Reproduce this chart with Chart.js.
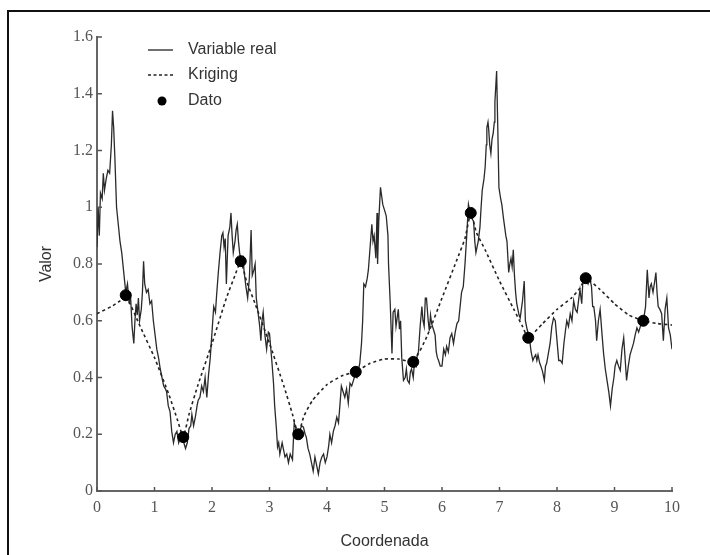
<!DOCTYPE html>
<html>
<head>
<meta charset="utf-8">
<script src="https://cdn.jsdelivr.net/npm/chart.js@4"></script>
<style>
  html, body { margin: 0; padding: 0; background: #fff; }
  #wrap { width: 710px; height: 555px; position: relative; }
</style>
</head>
<body>
<div id="wrap"><canvas id="chart" width="710" height="555"></canvas></div>
<script>
// Variable real (noisy line)
const realCoord = [
  0.00, 0.02, 0.04, 0.06, 0.09, 0.11, 0.13, 0.16, 0.19, 0.22, 0.25, 0.27, 0.29, 0.31, 0.34, 0.37, 0.40, 0.43, 0.46, 0.50,
  0.53, 0.56, 0.58, 0.61, 0.64, 0.66, 0.68, 0.70, 0.72, 0.74, 0.77, 0.79, 0.81, 0.83, 0.86, 0.89, 0.92, 0.95, 0.98,
  1.01, 1.04, 1.07, 1.10, 1.13, 1.16, 1.19, 1.21, 1.24, 1.27, 1.30, 1.33, 1.36, 1.39, 1.42, 1.45, 1.48, 1.51, 1.54,
  1.57, 1.60, 1.63, 1.65, 1.68, 1.71, 1.74, 1.76, 1.79, 1.82, 1.85, 1.88, 1.91, 1.94, 1.97, 2.00,
  2.03, 2.06, 2.08, 2.11, 2.14, 2.17, 2.19, 2.21, 2.23, 2.25, 2.28, 2.31, 2.33, 2.35, 2.37, 2.40, 2.42, 2.44, 2.46, 2.48, 2.51,
  2.54, 2.56, 2.59, 2.62, 2.65, 2.68, 2.70, 2.73, 2.75, 2.77, 2.80, 2.83, 2.85, 2.87, 2.89, 2.92, 2.95, 2.98, 3.00, 3.04,
  3.07, 3.09, 3.12, 3.14, 3.16, 3.18, 3.20, 3.22, 3.25, 3.27, 3.30, 3.33, 3.36, 3.40, 3.43, 3.46, 3.49, 3.52,
  3.56, 3.59, 3.62, 3.64, 3.67, 3.70, 3.73, 3.76, 3.79, 3.82, 3.85, 3.88, 3.91, 3.94, 3.97, 4.00,
  4.03, 4.05, 4.08, 4.11, 4.14, 4.17, 4.20, 4.22, 4.25, 4.28, 4.31, 4.34, 4.37, 4.40, 4.43, 4.46, 4.49, 4.52,
  4.55, 4.57, 4.60, 4.62, 4.64, 4.67, 4.70, 4.72, 4.75, 4.78, 4.80, 4.82, 4.85, 4.87, 4.88, 4.90, 4.93, 4.95, 4.97, 5.00,
  5.03, 5.06, 5.07, 5.10, 5.13, 5.15, 5.18, 5.20, 5.24, 5.26, 5.28, 5.30, 5.33, 5.36, 5.38, 5.40, 5.43, 5.45, 5.47, 5.50, 5.52, 5.55, 5.57,
  5.59, 5.62, 5.65, 5.67, 5.69, 5.71, 5.73, 5.76, 5.78, 5.80, 5.82, 5.85, 5.88, 5.90, 5.92, 5.94, 5.97, 6.00,
  6.03, 6.06, 6.08, 6.11, 6.14, 6.17, 6.20, 6.23, 6.26, 6.29, 6.31, 6.34, 6.37, 6.40, 6.43, 6.46, 6.49, 6.52,
  6.55, 6.57, 6.59, 6.61, 6.63, 6.66, 6.68, 6.70, 6.73, 6.75, 6.77, 6.78, 6.80, 6.81, 6.83, 6.85, 6.87, 6.89, 6.91, 6.92, 6.95, 6.97, 6.99,
  7.02, 7.04, 7.07, 7.09, 7.11, 7.13, 7.16, 7.18, 7.20, 7.22, 7.24, 7.26, 7.28, 7.30, 7.32, 7.34, 7.36, 7.38, 7.40, 7.43, 7.45, 7.48, 7.52,
  7.55, 7.58, 7.60, 7.63, 7.65, 7.67, 7.70, 7.72, 7.75, 7.78, 7.80, 7.82, 7.85, 7.88, 7.91, 7.94, 7.97, 8.00, 8.03,
  8.06, 8.09, 8.12, 8.15, 8.17, 8.20, 8.23, 8.26, 8.29, 8.32, 8.35, 8.38, 8.40, 8.43, 8.45, 8.48, 8.51,
  8.54, 8.57, 8.60, 8.62, 8.64, 8.67, 8.69, 8.72, 8.75, 8.78, 8.81, 8.84, 8.87, 8.90, 8.93, 8.96, 8.99, 9.01, 9.04,
  9.07, 9.10, 9.13, 9.16, 9.19, 9.21, 9.24, 9.27, 9.30, 9.33, 9.36, 9.39, 9.42, 9.45, 9.48, 9.51,
  9.54, 9.57, 9.60, 9.62, 9.64, 9.67, 9.70, 9.72, 9.74, 9.76, 9.79, 9.82, 9.85, 9.88, 9.91, 9.94, 9.97, 10.00
];
const realValue = [
  0.86, 1.00, 0.90, 1.05, 1.03, 1.12, 1.06, 1.10, 1.13, 1.12, 1.22, 1.34, 1.28, 1.18, 1.00, 0.94, 0.88, 0.84, 0.78, 0.70,
  0.73, 0.66, 0.70, 0.58, 0.52, 0.60, 0.66, 0.62, 0.68, 0.60, 0.64, 0.70, 0.81, 0.73, 0.70, 0.71, 0.66, 0.67, 0.60,
  0.55, 0.50, 0.47, 0.43, 0.40, 0.37, 0.36, 0.35, 0.30, 0.28, 0.21, 0.17, 0.20, 0.21, 0.17, 0.19, 0.20, 0.17, 0.15,
  0.17, 0.22, 0.23, 0.27, 0.23, 0.26, 0.30, 0.32, 0.33, 0.37, 0.35, 0.40, 0.33, 0.41, 0.47, 0.56,
  0.65, 0.63, 0.69, 0.77, 0.84, 0.90, 0.91, 0.86, 0.89, 0.73, 0.90, 0.93, 0.98, 0.90, 0.84, 0.88, 0.92, 0.94, 0.88, 0.84, 0.80,
  0.82, 0.77, 0.72, 0.68, 0.75, 0.92, 0.76, 0.78, 0.80, 0.68, 0.63, 0.58, 0.53, 0.60, 0.63, 0.55, 0.50, 0.56, 0.555, 0.46,
  0.38, 0.30, 0.22, 0.155, 0.17, 0.13, 0.15, 0.17, 0.14, 0.12, 0.13, 0.10, 0.13, 0.11, 0.24, 0.22, 0.19, 0.21,
  0.23, 0.225, 0.20, 0.19, 0.15, 0.13, 0.10, 0.07, 0.12, 0.09, 0.06, 0.10, 0.12, 0.13, 0.10, 0.12,
  0.16, 0.20, 0.17, 0.21, 0.23, 0.26, 0.24, 0.29, 0.37, 0.35, 0.33, 0.36, 0.31, 0.38, 0.37, 0.39, 0.41, 0.40,
  0.43, 0.45, 0.52, 0.60, 0.73, 0.72, 0.75, 0.78, 0.86, 0.94, 0.88, 0.90, 0.82, 0.98, 0.80, 0.95, 1.07, 1.04, 1.01, 0.99,
  0.97, 0.90, 0.80, 0.66, 0.485, 0.63, 0.64, 0.58, 0.64, 0.57, 0.60, 0.47, 0.39, 0.40, 0.43, 0.39, 0.38, 0.42, 0.43, 0.40, 0.45, 0.44, 0.48,
  0.49, 0.58, 0.65, 0.60, 0.58, 0.68, 0.68, 0.60, 0.565, 0.62, 0.59, 0.57, 0.55, 0.49, 0.47, 0.46, 0.44, 0.44,
  0.50, 0.48, 0.51, 0.49, 0.54, 0.555, 0.52, 0.56, 0.59, 0.60, 0.64, 0.70, 0.72, 0.80, 0.90, 1.01, 0.98, 0.96,
  0.95, 0.88, 0.84, 0.86, 0.88, 0.93, 1.00, 1.06, 1.10, 1.14, 1.22, 1.28, 1.30, 1.28, 1.22, 1.19, 1.24, 1.26, 1.30, 1.37, 1.48, 1.28, 1.07,
  1.03, 1.01, 0.96, 0.93, 0.90, 0.88, 0.77, 0.80, 0.82, 0.79, 0.85, 0.76, 0.70, 0.66, 0.64, 0.62, 0.61, 0.64, 0.67, 0.74, 0.60, 0.57, 0.54,
  0.49, 0.46, 0.47, 0.48, 0.46, 0.48, 0.45, 0.44, 0.42, 0.39, 0.44, 0.45, 0.485, 0.52, 0.58, 0.61, 0.60, 0.53, 0.46,
  0.46, 0.45, 0.52, 0.57, 0.60, 0.58, 0.625, 0.60, 0.67, 0.64, 0.63, 0.68, 0.71, 0.66, 0.74, 0.76, 0.75,
  0.73, 0.75, 0.72, 0.65, 0.65, 0.60, 0.53, 0.60, 0.64, 0.56, 0.485, 0.43, 0.39, 0.35, 0.30, 0.36, 0.40, 0.44, 0.46,
  0.44, 0.425, 0.50, 0.54, 0.45, 0.39, 0.44, 0.48, 0.50, 0.52, 0.55, 0.575, 0.56, 0.58, 0.60, 0.61,
  0.65, 0.78, 0.68, 0.72, 0.73, 0.70, 0.74, 0.77, 0.70, 0.65, 0.64, 0.625, 0.53, 0.64, 0.68, 0.575, 0.55, 0.50
];

// Kriging estimate (dashed)
const krigCoord = [0, 0.25, 0.4, 0.5, 0.75, 1.0, 1.25, 1.4, 1.5, 1.6, 1.75, 2.0, 2.25, 2.4, 2.5, 2.6, 2.75, 3.0, 3.25, 3.4, 3.5,
  3.6, 3.75, 4.0, 4.25, 4.4, 4.5, 4.75, 5.0, 5.25, 5.5, 5.75, 6.0, 6.25, 6.4, 6.5, 6.6, 6.75, 7.0, 7.25, 7.4, 7.5,
  7.75, 8.0, 8.25, 8.4, 8.5, 8.75, 9.0, 9.25, 9.5, 9.75, 10];
const krigValue = [0.625, 0.65, 0.67, 0.69, 0.58, 0.47, 0.34, 0.25, 0.19, 0.27, 0.37, 0.52, 0.68, 0.76, 0.81, 0.74, 0.66, 0.52, 0.37, 0.27, 0.20,
  0.265, 0.32, 0.375, 0.405, 0.415, 0.42, 0.45, 0.465, 0.465, 0.455, 0.55, 0.68, 0.81, 0.89, 0.98, 0.91, 0.85, 0.74, 0.64, 0.58, 0.54,
  0.59, 0.64, 0.68, 0.715, 0.75, 0.71, 0.66, 0.62, 0.60, 0.59, 0.585];

// Dato (sample points)
const datoCoord = [0.5, 1.5, 2.5, 3.5, 4.5, 5.5, 6.5, 7.5, 8.5, 9.5];
const datoValue = [0.69, 0.19, 0.81, 0.20, 0.42, 0.455, 0.98, 0.54, 0.75, 0.60];

const xTicks = [0, 1, 2, 3, 4, 5, 6, 7, 8, 9, 10];
const yTicks = [0, 0.2, 0.4, 0.6, 0.8, 1, 1.2, 1.4, 1.6];
const seriesNames = ["Variable real", "Kriging", "Dato"];

const pairs = (xs, ys) => xs.map((x, i) => ({ x: x, y: ys[i] }));
const plain = v => String(Math.round(v * 10) / 10);

const serif = "'Liberation Serif', 'Times New Roman', serif";
const sans = "'Liberation Sans', Arial, sans-serif";

// frame, inward ticks and legend drawn by hand
const decor = {
  id: "decor",
  beforeDraw(chart) {
    const ctx = chart.ctx;
    ctx.save();
    ctx.fillStyle = "#111";
    ctx.fillRect(7, 10, 703, 2);
    ctx.fillRect(7, 10, 2, 545);
    ctx.restore();
  },
  afterDraw(chart) {
    const ctx = chart.ctx;
    const a = chart.chartArea;
    const xs = chart.scales.x;
    const ys = chart.scales.y;
    ctx.save();
    ctx.strokeStyle = "#555";
    ctx.lineWidth = 1.5;
    ctx.beginPath();
    xTicks.forEach(v => {
      const px = xs.getPixelForValue(v);
      ctx.moveTo(px, a.bottom);
      ctx.lineTo(px, a.bottom - 4);
    });
    yTicks.forEach(v => {
      const py = ys.getPixelForValue(v);
      ctx.moveTo(a.left, py);
      ctx.lineTo(a.left + 5, py);
    });
    ctx.stroke();

    // legend
    const lx = a.left + 51;
    const tx = a.left + 91;
    const rows = [a.top + 13, a.top + 38, a.top + 64];
    ctx.strokeStyle = "#222";
    ctx.lineWidth = 1.3;
    ctx.beginPath();
    ctx.moveTo(lx, rows[0]);
    ctx.lineTo(lx + 25, rows[0]);
    ctx.stroke();
    ctx.setLineDash([3, 2.5]);
    ctx.lineWidth = 1.6;
    ctx.beginPath();
    ctx.moveTo(lx, rows[1]);
    ctx.lineTo(lx + 25, rows[1]);
    ctx.stroke();
    ctx.setLineDash([]);
    ctx.fillStyle = "#000";
    ctx.beginPath();
    ctx.arc(lx + 14, rows[2], 4.5, 0, Math.PI * 2);
    ctx.fill();
    ctx.fillStyle = "#333";
    ctx.font = "16px " + sans;
    ctx.textBaseline = "middle";
    seriesNames.forEach((n, i) => ctx.fillText(n, tx, rows[i]));
    ctx.restore();
  }
};

new Chart(document.getElementById("chart"), {
  type: "line",
  data: {
    datasets: [
      {
        label: seriesNames[0],
        data: pairs(realCoord, realValue),
        borderColor: "#2a2a2a",
        borderWidth: 1.3,
        pointRadius: 0,
        tension: 0,
        order: 3
      },
      {
        label: seriesNames[1],
        data: pairs(krigCoord, krigValue),
        borderColor: "#222",
        borderWidth: 1.6,
        borderDash: [3, 3],
        pointRadius: 0,
        tension: 0.15,
        order: 2
      },
      {
        label: seriesNames[2],
        data: pairs(datoCoord, datoValue),
        showLine: false,
        pointRadius: 5.5,
        pointBackgroundColor: "#000",
        pointBorderColor: "#000",
        order: 1
      }
    ]
  },
  options: {
    responsive: false,
    animation: false,
    events: [],
    layout: { padding: { left: 0, top: 37, right: 38, bottom: 0 } },
    plugins: { legend: { display: false }, tooltip: { enabled: false } },
    scales: {
      x: {
        type: "linear",
        min: 0,
        max: 10,
        afterFit(s) { s.height = 64; },
        afterBuildTicks(s) { s.ticks = xTicks.map(v => ({ value: v })); },
        grid: { display: false, drawTicks: false },
        border: { display: true, color: "#666", width: 2 },
        ticks: { color: "#555", padding: 7, font: { family: serif, size: 16 }, callback: plain },
        title: {
          display: true,
          text: "Coordenada",
          color: "#333",
          font: { family: sans, size: 16 },
          padding: { top: 0, bottom: 4 }
        }
      },
      y: {
        type: "linear",
        min: 0,
        max: 1.6,
        afterFit(s) { s.width = 97; },
        afterBuildTicks(s) { s.ticks = yTicks.map(v => ({ value: v })); },
        grid: { display: false, drawTicks: false },
        border: { display: true, color: "#666", width: 2 },
        ticks: { color: "#555", padding: 4, font: { family: serif, size: 16 }, callback: plain },
        title: {
          display: true,
          text: "Valor",
          color: "#333",
          font: { family: sans, size: 16 },
          padding: { top: 37, bottom: 0 }
        }
      }
    }
  },
  plugins: [decor]
});
</script>
</body>
</html>
